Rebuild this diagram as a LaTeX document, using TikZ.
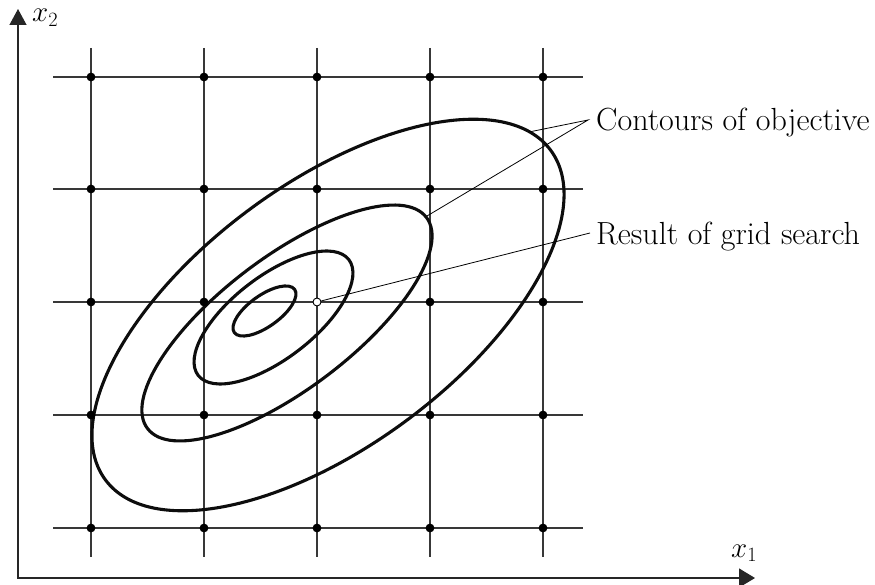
\RequirePackage{fix-cm}
\documentclass[tikz,border=0pt]{standalone}
\usetikzlibrary{arrows.meta}
\begin{document}
\begin{tikzpicture}[x=1pt,y=-1pt,
  gridline/.style={line width=1.4pt, draw=black!78},
  contour/.style={line width=3.1pt, draw=black!95},
  leader/.style={line width=0.8pt, draw=black},
  axisline/.style={line width=1.3pt, draw=black!85, {Triangle[length=16pt,width=17pt]}-{Triangle[length=16pt,width=19pt]}},
  gdot/.style={circle, fill=black, inner sep=0pt, minimum size=8.8pt},
  odot/.style={circle, fill=white, draw=black, line width=0.9pt, inner sep=0pt, minimum size=8pt},
  lbl/.style={font=\fontsize{32}{38}\selectfont, inner sep=0pt},
  axlbl/.style={font=\fontsize{29}{34}\selectfont, inner sep=0pt}]
\useasboundingbox (0,0) rectangle (875,585);

% axes
\coordinate (O) at (18,578);
\coordinate (ytip) at (18,9);
\coordinate (xtip) at (755,578);
\draw[axisline] (ytip) -- (O) -- (xtip);
\node[axlbl, anchor=base west] (x2) at (32,22) {$x_2$};
\node[axlbl, anchor=base west] (x1) at (731,557) {$x_1$};

% grid
\foreach \x in {91,204,317,430,543} \draw[gridline] (\x,48) -- (\x,557);
\foreach \y in {77,189,302,415,528} \draw[gridline] (53,\y) -- (583,\y);

% contours (rotated ellipses)
\coordinate (c4) at (328,315);
\coordinate (c3) at (287,323);
\coordinate (c2) at (273.5,317.5);
\coordinate (c1) at (264.5,311);
\draw[contour, rotate around={36.5:(c4)}] (c4) ellipse [x radius=277pt, y radius=131.5pt];
\draw[contour, rotate around={37.1:(c3)}] (c3) ellipse [x radius=174.9pt, y radius=66.1pt];
\draw[contour, rotate around={37.5:(c2)}] (c2) ellipse [x radius=95pt, y radius=41.3pt];
\draw[contour, rotate around={35.6:(c1)}] (c1) ellipse [x radius=37.1pt, y radius=15.6pt];

% grid points
\foreach \x [count=\i] in {91,204,317,430,543} {
  \foreach \y [count=\j] in {77,189,302,415,528} {
    \ifnum\numexpr\i*10+\j\relax=33 \else \node[gdot] (g\i\j) at (\x,\y) {};\fi
  }
}
\node[odot] (opt) at (317,302) {};

% labels and leaders
\node[lbl, anchor=base west] (t1) at (596,131) {Contours of objective};
\node[lbl, anchor=base west] (t2) at (596,245) {Result of grid search};
\coordinate (a1) at (588,120);
\coordinate (a2) at (590,233);
\coordinate (c4end) at (529,132);
\coordinate (c3end) at (427,216);
\draw[leader] (c4end) -- (a1) -- (c3end);
\draw[leader] (opt) -- (a2);
\end{tikzpicture}
\end{document}
